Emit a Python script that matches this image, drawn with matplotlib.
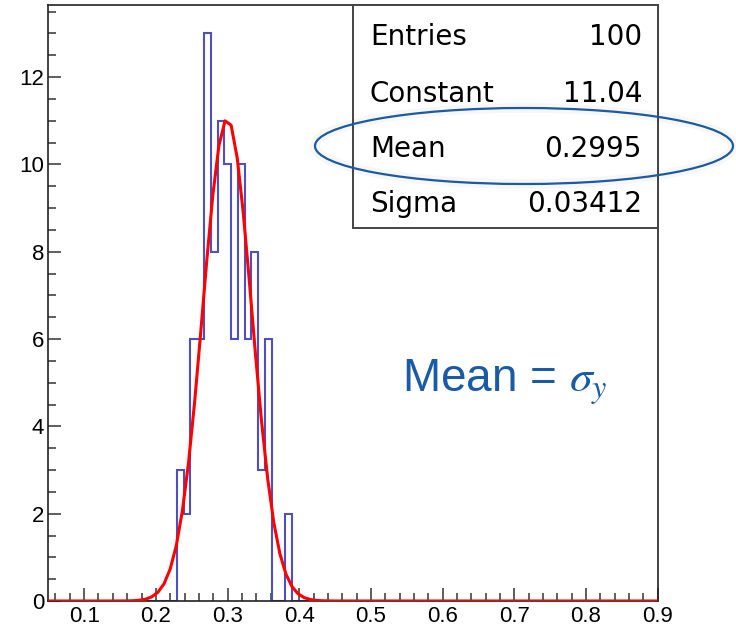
import numpy as np
import matplotlib
matplotlib.use("Agg")
import matplotlib.pyplot as plt
from matplotlib.patches import Rectangle, Ellipse
from matplotlib.ticker import MultipleLocator, AutoMinorLocator

plt.rcParams["font.family"] = ["Liberation Sans", "DejaVu Sans"]

# histogram: 90 bins on [0.05, 0.9], only bins 19..35 are filled
x_min, x_max = 0.05, 0.9
n_bins = 90
first_bin = 19
counts = [3, 2, 6, 6, 13, 8, 11, 10, 6, 10, 6, 8, 3, 6, 0, 0, 2]

# fit results shown in the stats box
stat_names = ["Entries", "Constant", "Mean", "Sigma"]
stat_values = ["100", "11.04", "0.2995", "0.03412"]
fit_const, fit_mean, fit_sigma = 11.04, 0.2995, 0.03412

x_ticks = [0.1, 0.2, 0.3, 0.4, 0.5, 0.6, 0.7, 0.8, 0.9]
y_max = 13.65

W, H = 736, 630
fig = plt.figure(figsize=(W / 100, H / 100), dpi=100)
ax = fig.add_axes([48.3 / W, 29 / H, (657.7 - 48.3) / W, (601 - 5) / H])

edges = np.linspace(x_min, x_max, n_bins + 1)
full = np.zeros(n_bins)
full[first_bin:first_bin + len(counts)] = counts
ax.stairs(full, edges, color="#4f4fc4", lw=1.5, zorder=2)

# gaussian drawn with the fitted parameters (100 points like ROOT)
fx = np.linspace(x_min, x_max, 101)
fy = fit_const * np.exp(-0.5 * ((fx - fit_mean) / fit_sigma) ** 2)
ax.plot(fx, fy, color="red", lw=2.2, zorder=3)

ax.set_xlim(x_min, x_max)
ax.set_ylim(0, y_max)
ax.set_xticks(x_ticks)
ax.set_xticklabels([str(t) for t in x_ticks])
ax.xaxis.set_minor_locator(AutoMinorLocator(5))
ax.yaxis.set_major_locator(MultipleLocator(2))
ax.yaxis.set_minor_locator(AutoMinorLocator(4))
ax.tick_params(which="both", direction="in", top=False, right=False,
               color="#333333", width=1.1)
ax.tick_params(which="major", length=9.5)
ax.tick_params(which="minor", length=5.5)
ax.tick_params(axis="x", labelsize=16, pad=3.5)
ax.tick_params(axis="y", labelsize=16, pad=3)
for s in ax.spines.values():
    s.set_linewidth(1.2)
    s.set_color("#222222")

# stats box
box = Rectangle((353 / W, 1 - 228 / H), (658 - 353) / W, (228 - 5) / H,
                transform=fig.transFigure, facecolor="white",
                edgecolor="#444444", lw=1.4, zorder=2)
fig.patches.append(box)
baselines = [45, 102, 157, 212]
for name, val, yb in zip(stat_names, stat_values, baselines):
    fig.text(370 / W, 1 - yb / H, name, fontsize=20, family="DejaVu Sans",
             va="baseline", ha="left", zorder=3)
    fig.text(642 / W, 1 - yb / H, val, fontsize=20, family="DejaVu Sans",
             va="baseline", ha="right", zorder=3)

# highlight around the Mean row
ec, ey, ew, eh = 524 / W, 1 - 146 / H, 418 / W, 76 / H
glow = Ellipse((ec, ey), ew, eh, transform=fig.transFigure, fill=False,
               edgecolor="black", lw=7, alpha=0.03, zorder=4)
fig.patches.append(glow)
ring = Ellipse((ec, ey), ew, eh, transform=fig.transFigure, fill=False,
               edgecolor="#1a5ba6", lw=1.6, zorder=5)
fig.patches.append(ring)

fig.text(402 / W, 1 - 392 / H, "Mean = $\\sigma_y$", fontsize=33,
         family="Liberation Sans", color="#1a5ba6", va="baseline",
         math_fontfamily="stix")

fig.savefig("out.png", dpi=100)
